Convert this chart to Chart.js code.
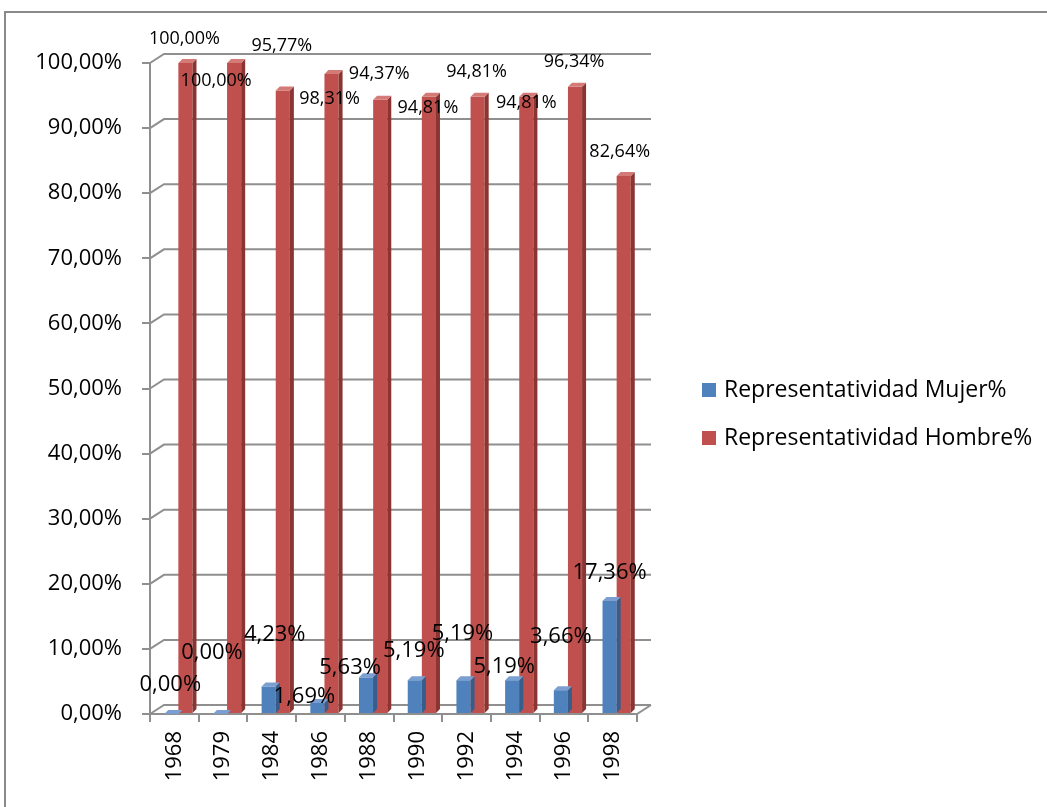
<!DOCTYPE html>
<html>
<head>
<meta charset="utf-8">
<script src="https://cdn.jsdelivr.net/npm/chart.js@4"></script>
<style>
  html, body { margin: 0; padding: 0; background: #fff; }
  #wrap { position: relative; width: 1047px; height: 807px; }
</style>
</head>
<body>
<div id="wrap"><canvas id="myChartRep"></canvas></div>
<script>
// Representatividad por año - START
const years = ['1968', '1979', '1984', '1986', '1988', '1990', '1992', '1994', '1996', '1998'];
const mujerPct = [0, 0, 4.23, 1.69, 5.63, 5.19, 5.19, 5.19, 3.66, 17.36];
const hombrePct = [100, 100, 95.77, 98.31, 94.37, 94.81, 94.81, 94.81, 96.34, 82.64];
const yTickValues = [0, 10, 20, 30, 40, 50, 60, 70, 80, 90, 100];

const FONT = "'Open Sans', 'Noto Sans', sans-serif";
const GRID = '#8f8f8f';
const DEPTH_X = 14, DEPTH_Y = -9;   // wall depth
const BAR_DX = 4, BAR_DY = -4;      // bar depth
const BAR_SHIFT = 4;                // bars sit a little into the depth

// where each value label sits, relative to the top of its bar
const labelShift = [
    [[3, -29], [-4, -61], [10, -52], [-9, -6], [-12, -10], [3, -29], [3, -46], [-4, -13], [4, -53], [4, -28]],
    [[3, -24], [-14, 18], [3, -45], [2, 25], [3, -26], [3, 11], [3, -25], [4, 6], [3, -25], [0, -24]]
];
const labelSize = [22, 18];

const pct = v => v.toFixed(2).replace('.', ',') + '%';

const faceColors = [
    { side: '#385d8a', top: '#7a9fd0' },
    { side: '#8a3532', top: '#d47b78' }
];

const chart3d = {
    id: 'chart3d',
    beforeDraw(chart) {
        const ctx = chart.ctx;
        ctx.save();
        ctx.fillStyle = '#fff';
        ctx.fillRect(0, 0, chart.width, chart.height);
        ctx.strokeStyle = '#8a8a8a';
        ctx.lineWidth = 2;
        ctx.strokeRect(5, 12, chart.width + 50, chart.height + 50);
        ctx.restore();
    },
    beforeDatasetsDraw(chart) {
        const ctx = chart.ctx;
        const { left, right, bottom } = chart.chartArea;
        const y = chart.scales.y;
        ctx.save();
        ctx.strokeStyle = GRID;
        ctx.lineWidth = 2;
        yTickValues.forEach(v => {
            const py = y.getPixelForValue(v);
            ctx.beginPath();
            ctx.moveTo(left, py);
            ctx.lineTo(left + DEPTH_X, py + DEPTH_Y);
            ctx.lineTo(right + DEPTH_X, py + DEPTH_Y);
            ctx.stroke();
        });
        // floor front edge
        ctx.beginPath();
        ctx.moveTo(left, bottom);
        ctx.lineTo(right, bottom);
        ctx.lineTo(right + DEPTH_X, bottom + DEPTH_Y);
        ctx.stroke();
        ctx.restore();
        // push the bars back a bit; undone in afterDatasetsDraw
        ctx.save();
        ctx.translate(BAR_SHIFT, 0);
    },
    afterDatasetsDraw(chart) {
        const ctx = chart.ctx;
        chart.data.datasets.forEach((ds, di) => {
            const meta = chart.getDatasetMeta(di);
            meta.data.forEach(bar => {
                const x0 = bar.x - bar.width / 2, x1 = bar.x + bar.width / 2;
                const top = bar.y, base = bar.base;
                // side face
                ctx.fillStyle = faceColors[di].side;
                ctx.beginPath();
                ctx.moveTo(x1, top);
                ctx.lineTo(x1 + BAR_DX, top + BAR_DY);
                ctx.lineTo(x1 + BAR_DX, base + BAR_DY);
                ctx.lineTo(x1, base);
                ctx.closePath();
                ctx.fill();
                // top face
                ctx.fillStyle = faceColors[di].top;
                ctx.beginPath();
                ctx.moveTo(x0, top);
                ctx.lineTo(x0 + BAR_DX, top + BAR_DY);
                ctx.lineTo(x1 + BAR_DX, top + BAR_DY);
                ctx.lineTo(x1, top);
                ctx.closePath();
                ctx.fill();
            });
        });
        ctx.restore();

        // value labels
        ctx.save();
        ctx.fillStyle = '#000';
        ctx.textAlign = 'center';
        ctx.textBaseline = 'middle';
        chart.data.datasets.forEach((ds, di) => {
            ctx.font = labelSize[di] + 'px ' + FONT;
            chart.getDatasetMeta(di).data.forEach((bar, i) => {
                const s = labelShift[di][i];
                ctx.fillText(pct(ds.data[i]), bar.x + s[0], bar.y + s[1]);
            });
        });
        ctx.restore();
    },
    afterDraw(chart) {
        // legend
        const ctx = chart.ctx;
        ctx.save();
        ctx.font = '23px ' + FONT;
        ctx.textBaseline = 'middle';
        ctx.textAlign = 'left';
        chart.data.datasets.forEach((ds, di) => {
            const cy = 390 + di * 48;
            ctx.fillStyle = ds.backgroundColor;
            ctx.fillRect(702, cy - 7, 14, 14);
            ctx.fillStyle = '#000';
            ctx.fillText(ds.label, 724, cy);
        });
        ctx.restore();
    }
};

const repData = {
    labels: years,
    datasets: [
        {
            label: 'Representatividad Mujer%',
            data: mujerPct,
            backgroundColor: '#4f81bd'
        },
        {
            label: 'Representatividad Hombre%',
            data: hombrePct,
            backgroundColor: '#c0504d'
        }
    ]
};

const repConfig = {
    type: 'bar',
    data: repData,
    options: {
        responsive: true,
        maintainAspectRatio: false,
        animation: false,
        datasets: {
            bar: { categoryPercentage: 0.58, barPercentage: 1.0 }
        },
        layout: {
            padding: { left: 0, top: 63, right: 410, bottom: 13 }
        },
        plugins: {
            legend: { display: false },
            tooltip: { enabled: false }
        },
        scales: {
            x: {
                afterFit: s => { s.height = 80; },
                grid: { offset: true, drawOnChartArea: false, drawTicks: true, tickLength: 8, color: GRID, lineWidth: 2 },
                border: { color: GRID, width: 2 },
                ticks: { minRotation: 90, maxRotation: 90, padding: 9, color: '#000', font: { family: FONT, size: 22 } }
            },
            y: {
                min: 0,
                max: 100,
                afterFit: s => { s.width = 150; },
                afterBuildTicks: s => { s.ticks = yTickValues.map(v => ({ value: v })); },
                grid: { drawOnChartArea: false, drawTicks: true, tickLength: 8, color: GRID, lineWidth: 2 },
                border: { color: GRID, width: 2 },
                ticks: { padding: 20, color: '#000', font: { family: FONT, size: 22 }, callback: v => pct(v) }
            }
        }
    },
    plugins: [chart3d]
};

new Chart('myChartRep', repConfig);
// Representatividad por año - END
</script>
</body>
</html>
